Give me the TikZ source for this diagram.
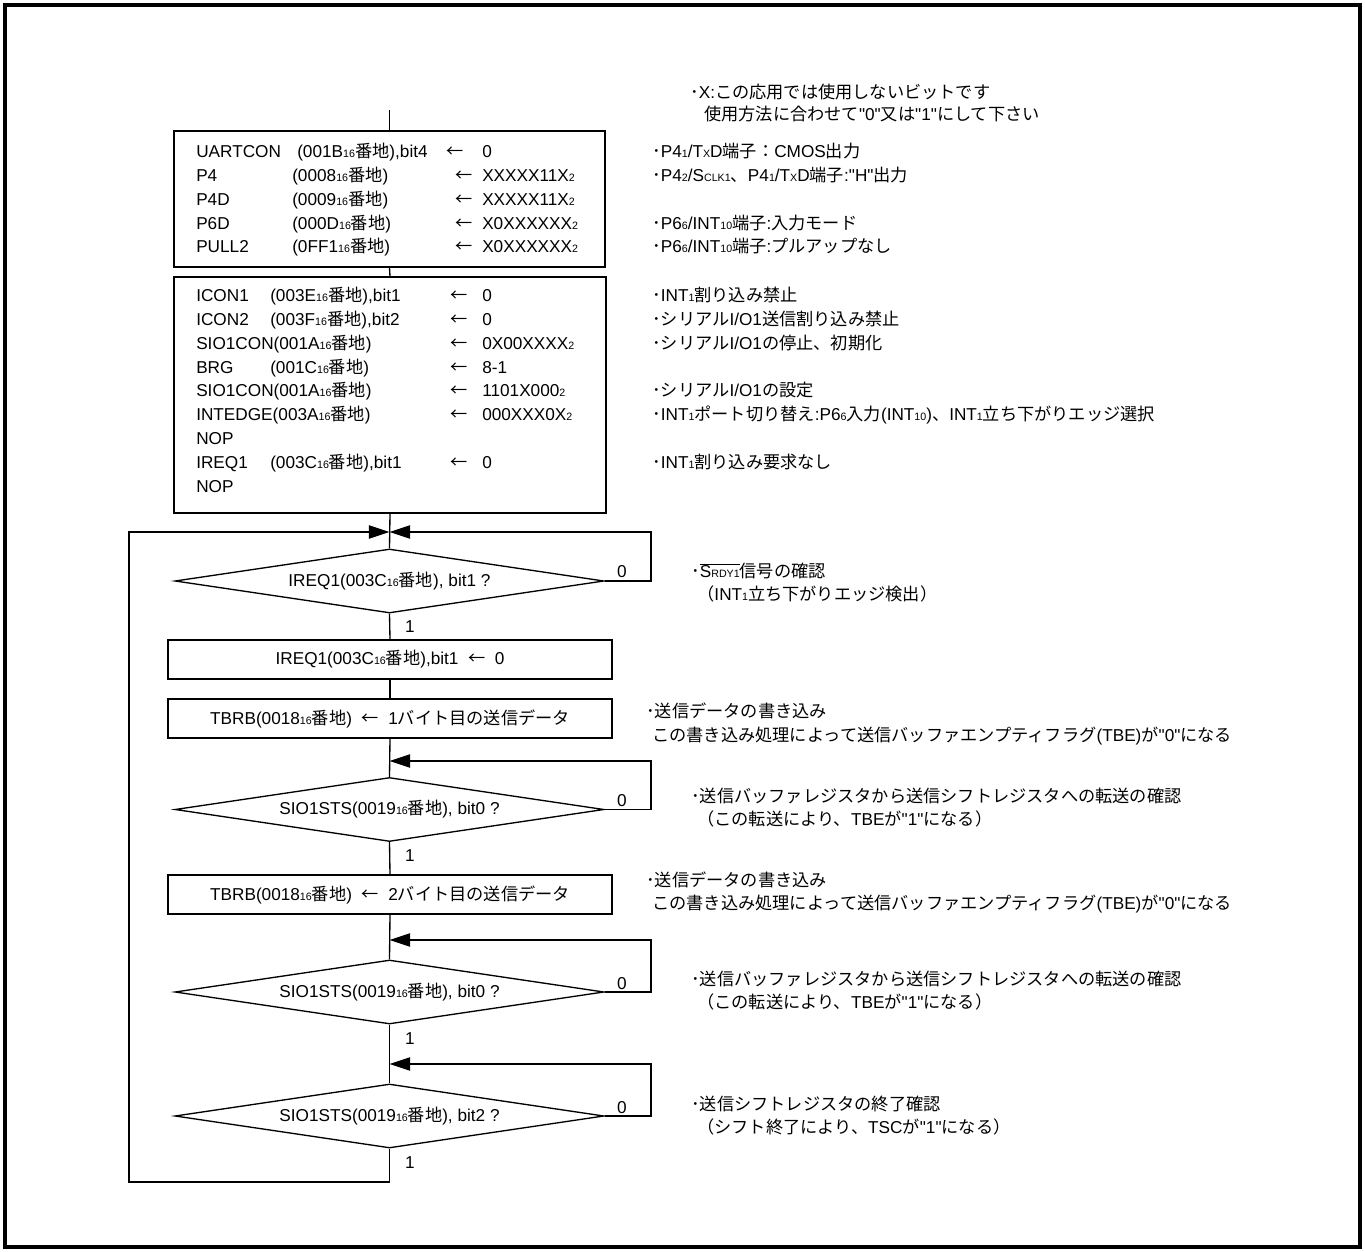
\documentclass[tikz,border=0pt]{standalone}
\usepackage{fontspec}
\setmainfont{Liberation Sans}
\newfontfamily\jpfont{Noto Sans CJK JP}
\newfontfamily\latfont{Liberation Sans}
\usepackage{tikz}
\usetikzlibrary{shapes.geometric,arrows.meta}

\newcommand{\sml}[1]{{\fontsize{8pt}{8pt}\selectfont #1}}
\newcommand{\dq}{{\latfont"}}
\newcommand{\setarrow}{{\jpfont ←}}
\newcommand{\regaddr}[1]{(#1\sml{16}{\jpfont 番地})}
\newcommand{\notewrite}{{\jpfont この書き込み処理によって送信バッファエンプティフラグ}(TBE){\jpfont が}\dq0\dq{\jpfont になる}}
\newcommand{\notexfer}{{\jpfont ･送信バッファレジスタから送信シフトレジスタへの転送の確認}}
\newcommand{\notetbe}{{\jpfont （この転送により、}TBE{\jpfont が}\dq1\dq{\jpfont になる）}}

\begin{document}
\begin{tikzpicture}[x=0.75pt,y=0.75pt,yscale=-1,xscale=1,
  font=\fontsize{12.9pt}{15pt}\selectfont,
  procbox/.style={draw, rectangle, line width=1pt, inner sep=0pt},
  decide/.style={draw, diamond, aspect=6.7, inner sep=0pt, line width=1pt,
    minimum width=321.75pt, minimum height=48pt},
  txt/.style={anchor=west, inner sep=0pt, text height=9.5pt, text depth=2.5pt},
  lbl/.style={inner sep=0pt, text height=9.5pt, text depth=0pt},
  flow/.style={line width=1pt},
  back/.style={line width=1pt, -{Triangle[length=15.5pt,width=10pt]}}]
\useasboundingbox (0,0) rectangle (1365,1252);
%outer frame
\draw[line width=2.4pt] (5,5) rectangle (1360,1247);

%% blocks
\coordinate (s0) at (389.5,110);
\node[procbox, minimum width=323.25pt, minimum height=102pt] (box1) at (389.5,199) {};
\node[procbox, minimum width=324pt, minimum height=177pt] (box2) at (390,395) {};
\coordinate (m1) at (389.5,532);
\node[decide] (d1) at (389.5,581) {IREQ1\regaddr{003C}, bit1 ?};
\node[procbox, minimum width=333pt, minimum height=29.25pt] (box3) at (390,659.5) {IREQ1\regaddr{003C},bit1\ \ \setarrow\ \ 0};
\node[procbox, minimum width=333pt, minimum height=29.25pt] (box4) at (390,718.5) {TBRB\regaddr{0018}\ \ \setarrow\ \ 1{\jpfont バイト目の送信データ}};
\coordinate (m2) at (389.5,761);
\node[decide] (d2) at (389.5,809.5) {SIO1STS\regaddr{0019}, bit0 ?};
\node[procbox, minimum width=333pt, minimum height=29.25pt] (box5) at (390,894.5) {TBRB\regaddr{0018}\ \ \setarrow\ \ 2{\jpfont バイト目の送信データ}};
\coordinate (m3) at (389.5,940);
\node[decide] (d3) at (389.5,992) {SIO1STS\regaddr{0019}, bit0 ?};
\coordinate (m4) at (389.5,1064);
\node[decide] (d4) at (389.5,1116) {SIO1STS\regaddr{0019}, bit2 ?};

%% box1 rows
\node[txt] (p1a) at (196,153) {UARTCON};
\node[txt] (p1b) at (297,153) {\regaddr{001B},bit4};
\node[txt] (p1c) at (446,153) {\setarrow};
\node[txt] (p1d) at (482,153) {0};
\node[txt] (p2a) at (196,177) {P4};
\node[txt] (p2b) at (292,177) {\regaddr{0008}};
\node[txt] (p2c) at (455,177) {\setarrow};
\node[txt] (p2d) at (482,177) {XXXXX11X\sml{2}};
\node[txt] (p3a) at (196,201) {P4D};
\node[txt] (p3b) at (292,201) {\regaddr{0009}};
\node[txt] (p3c) at (455,201) {\setarrow};
\node[txt] (p3d) at (482,201) {XXXXX11X\sml{2}};
\node[txt] (p4a) at (196,225) {P6D};
\node[txt] (p4b) at (292,225) {\regaddr{000D}};
\node[txt] (p4c) at (455,225) {\setarrow};
\node[txt] (p4d) at (482,225) {X0XXXXXX\sml{2}};
\node[txt] (p5a) at (196,248) {PULL2};
\node[txt] (p5b) at (292,248) {\regaddr{0FF1}};
\node[txt] (p5c) at (455,248) {\setarrow};
\node[txt] (p5d) at (482,248) {X0XXXXXX\sml{2}};

%% box2 rows
\node[txt] (q1a) at (196,297) {ICON1};
\node[txt] (q1b) at (270,297) {\regaddr{003E},bit1};
\node[txt] (q1c) at (450,297) {\setarrow};
\node[txt] (q1d) at (482,297) {0};
\node[txt] (q2a) at (196,321) {ICON2};
\node[txt] (q2b) at (270,321) {\regaddr{003F},bit2};
\node[txt] (q2c) at (450,321) {\setarrow};
\node[txt] (q2d) at (482,321) {0};
\node[txt] (q3a) at (196,345) {SIO1CON\regaddr{001A}};
\node[txt] (q3c) at (450,345) {\setarrow};
\node[txt] (q3d) at (482,345) {0X00XXXX\sml{2}};
\node[txt] (q4a) at (196,369) {BRG};
\node[txt] (q4b) at (270,369) {\regaddr{001C}};
\node[txt] (q4c) at (450,369) {\setarrow};
\node[txt] (q4d) at (482,369) {8-1};
\node[txt] (q5a) at (196,392) {SIO1CON\regaddr{001A}};
\node[txt] (q5c) at (450,392) {\setarrow};
\node[txt] (q5d) at (482,392) {1101X000\sml{2}};
\node[txt] (q6a) at (196,416) {INTEDGE\regaddr{003A}};
\node[txt] (q6c) at (450,416) {\setarrow};
\node[txt] (q6d) at (482,416) {000XXX0X\sml{2}};
\node[txt] (q7a) at (196,440) {NOP};
\node[txt] (q8a) at (196,464) {IREQ1};
\node[txt] (q8b) at (270,464) {\regaddr{003C},bit1};
\node[txt] (q8c) at (450,464) {\setarrow};
\node[txt] (q8d) at (482,464) {0};
\node[txt] (q9a) at (196,488) {NOP};

%% connectors
\draw[flow] (s0) -- (box1.north);
\draw[flow] (box1.south) -- (box2.north);
\draw[flow] (box2.south) -- (d1.north);
\draw[flow] (d1.south) -- (box3.north);
\draw[flow] (box3.south) -- (box4.north);
\draw[flow] (box4.south) -- (d2.north);
\draw[flow] (d2.south) -- (box5.north);
\draw[flow] (box5.south) -- (d3.north);
\draw[flow] (d3.south) -- (d4.north);
\coordinate (r1) at (651,532);
\coordinate (r2) at (651,761);
\coordinate (r3) at (651,940);
\coordinate (r4) at (651,1064);
\coordinate (lb) at (129,1182);
\coordinate (lt) at (129,532);
\draw[back] (d1.east) -| (r1) -- (m1);
\draw[back] (d2.east) -| (r2) -- (m2);
\draw[back] (d3.east) -| (r3) -- (m3);
\draw[back] (d4.east) -| (r4) -- (m4);
\draw[back] (d4.south) |- (lb) -- (lt) -- (m1);

%% branch labels
\node[lbl] (d1no) at (622,571) {0};
\node[lbl] (d1yes) at (410,626) {1};
\node[lbl] (d2no) at (622,800) {0};
\node[lbl] (d2yes) at (410,855) {1};
\node[lbl] (d3no) at (622,983) {0};
\node[lbl] (d3yes) at (410,1038) {1};
\node[lbl] (d4no) at (622,1107) {0};
\node[lbl] (d4yes) at (410,1162) {1};

%% notes
\node[txt] (nx1) at (690,94) {{\jpfont ･}X:{\jpfont この応用では使用しないビットです}};
\node[txt] (nx2) at (704,116) {{\jpfont 使用方法に合わせて}\dq0\dq{\jpfont 又は}\dq1\dq{\jpfont にして下さい}};
\node[txt] (na1) at (652,153) {{\jpfont ･}P4\sml{1}/T\sml{X}D{\jpfont 端子：}CMOS{\jpfont 出力}};
\node[txt] (na2) at (652,177) {{\jpfont ･}P4\sml{2}/S\sml{CLK1}{\jpfont 、}P4\sml{1}/T\sml{X}D{\jpfont 端子}:\dq H\dq{\jpfont 出力}};
\node[txt] (na4) at (652,225) {{\jpfont ･}P6\sml{6}/INT\sml{10}{\jpfont 端子}:{\jpfont 入力モード}};
\node[txt] (na5) at (652,248) {{\jpfont ･}P6\sml{6}/INT\sml{10}{\jpfont 端子}:{\jpfont プルアップなし}};
\node[txt] (nb1) at (652,297) {{\jpfont ･}INT\sml{1}{\jpfont 割り込み禁止}};
\node[txt] (nb2) at (652,321) {{\jpfont ･シリアル}I/O1{\jpfont 送信割り込み禁止}};
\node[txt] (nb3) at (652,345) {{\jpfont ･シリアル}I/O1{\jpfont の停止、初期化}};
\node[txt] (nb5) at (652,392) {{\jpfont ･シリアル}I/O1{\jpfont の設定}};
\node[txt] (nb6) at (652,416) {{\jpfont ･}INT\sml{1}{\jpfont ポート切り替え}:P6\sml{6}{\jpfont 入力}(INT\sml{10}){\jpfont 、}INT\sml{1}{\jpfont 立ち下がりエッジ選択}};
\node[txt] (nb8) at (652,464) {{\jpfont ･}INT\sml{1}{\jpfont 割り込み要求なし}};
\node[txt] (nc1) at (691,573) {{\jpfont ･}$\overline{\mbox{S\sml{RDY1}}}${\jpfont 信号の確認}};
\node[txt] (nc2) at (697,596) {{\jpfont （}INT\sml{1}{\jpfont 立ち下がりエッジ検出）}};
\node[txt] (nd1) at (646,713) {{\jpfont ･送信データの書き込み}};
\node[txt] (nd2) at (652,737) {\notewrite};
\node[txt] (ne1) at (691,798) {\notexfer};
\node[txt] (ne2) at (697,821) {\notetbe};
\node[txt] (nf1) at (646,882) {{\jpfont ･送信データの書き込み}};
\node[txt] (nf2) at (652,905) {\notewrite};
\node[txt] (ng1) at (691,981) {\notexfer};
\node[txt] (ng2) at (697,1004) {\notetbe};
\node[txt] (nh1) at (691,1106) {{\jpfont ･送信シフトレジスタの終了確認}};
\node[txt] (nh2) at (697,1129) {{\jpfont （シフト終了により、}TSC{\jpfont が}\dq1\dq{\jpfont になる）}};
\end{tikzpicture}
\end{document}
